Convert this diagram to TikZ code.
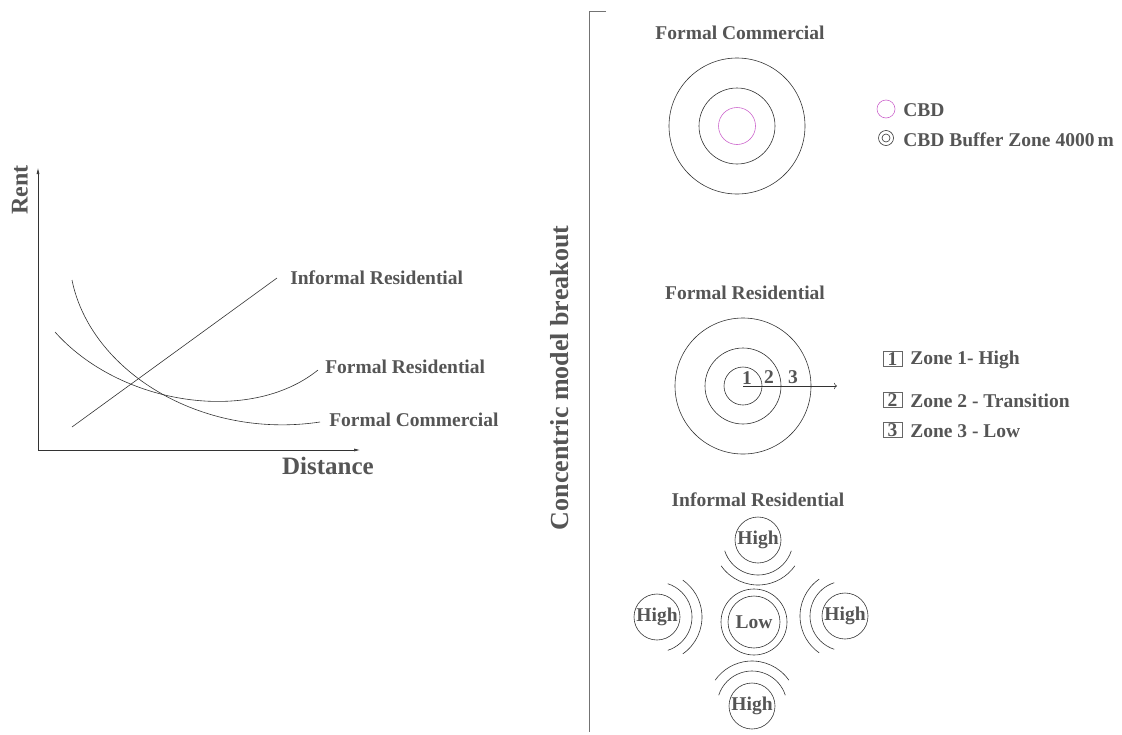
\documentclass[tikz,border=0pt]{standalone}
\usepackage{fontspec}
\setmainfont{Liberation Serif}
\usetikzlibrary{arrows.meta}
\definecolor{txtgray}{RGB}{85,85,85}
\definecolor{cbdpink}{RGB}{204,102,204}
\tikzset{
  lbl/.style={font=\bfseries\fontsize{19.5}{22}\selectfont, text=txtgray, inner sep=0pt},
  biglbl/.style={lbl, font=\bfseries\fontsize{25}{28}\selectfont},
  ring/.style={draw=black!80},
  house/.style={lbl, circle, draw=black!80, text=txtgray, minimum size=46pt},
  zonebox/.style={lbl, draw=black!60, minimum width=19pt, minimum height=15pt}
}
\begin{document}
\begin{tikzpicture}[x=1pt,y=1pt,line width=0.6pt]
\useasboundingbox (0,0) rectangle (1122,-734);
% bid rent graph
\coordinate (O) at (38,-450);
\coordinate (ytip) at (38,-168);
\coordinate (xtip) at (360,-450);
\draw[black!80,{Latex[length=6pt,width=3pt]}-{Latex[length=6pt,width=3pt]}] (ytip) -- (O) -- (xtip);
\node[biglbl, font=\bfseries\fontsize{24}{26}\selectfont, rotate=90] (rent) at (20,-190) {Rent};
\node[biglbl] (dist) at (328,-466) {Distance};
\coordinate (irA) at (72,-427);
\coordinate (irB) at (277,-278);
\draw[black!80] (irA) -- (irB);
\draw[black!80] (55,-332) .. controls (120,-405) and (250,-425) .. (318,-370);
\draw[black!80] (72,-280) .. controls (90,-370) and (200,-440) .. (320,-422);
\node[lbl, anchor=west] (irlbl) at (290,-278) {Informal Residential};
\node[lbl, anchor=west] (frlbl) at (325,-367) {Formal Residential};
\node[lbl, anchor=west] (fclbl) at (329,-420) {Formal Commercial};
% separator
\node[biglbl, font=\bfseries\fontsize{26}{30}\selectfont, rotate=90] (sep) at (560,-378) {Concentric model breakout};
\coordinate (sepT) at (606,-11);
\coordinate (sepC) at (589,-11);
\coordinate (sepB) at (589,-732);
\draw[black!55, line width=1pt] (sepT) -- (sepC) -- (sepB);
% formal commercial
\node[lbl] (fctitle) at (740,-33) {Formal Commercial};
\coordinate (fc) at (737,-126);
\draw[ring] (fc) circle (68);
\draw[ring] (fc) circle (38);
\draw[cbdpink] (fc) circle (18.5);
\draw[cbdpink] (886,-109) circle (9);
\node[lbl, anchor=west] (cbd) at (903,-110) {CBD};
\draw[ring] (886,-138) circle (7.5);
\draw[ring] (886,-138) circle (4);
\node[lbl, anchor=west] (buf) at (903,-140) {CBD Buffer Zone 4000\,m};
% formal residential
\node[lbl] (frtitle) at (745,-293) {Formal Residential};
\coordinate (fr) at (743,-386);
\coordinate (frtip) at (837,-386);
\foreach \r in {68,38,19}
  \draw[ring] (fr) circle (\r);
\draw[black!80,->] (fr) -- (frtip);
\node[lbl] (z1) at (747,-378) {1};
\node[lbl] (z2) at (769,-377) {2};
\node[lbl] (z3) at (793,-377) {3};
\foreach \n/\y/\t in {1/359/Zone 1- High, 2/400/Zone 2 - Transition, 3/430/Zone 3 - Low}{
  \node[zonebox] (box\n) at (892.5,-\y) {\n};
  \node[lbl, anchor=west] (zone\n) at (910,-\y-1) {\t};
}
% informal residential
\node[lbl] (irtitle) at (758,-500) {Informal Residential};
\node[house, minimum size=52pt] (low) at (754,-622) {Low};
\draw[ring] (low.center) circle (33);
\node[house] (hT) at (758,-540) {High};
\node[house] (hL) at (657,-617) {High};
\node[house] (hR) at (845,-616) {High};
\node[house] (hB) at (752,-706) {High};
\foreach \n/\a in {hT/270, hL/0, hR/180, hB/90}{
  \draw[ring] (\n.center) ++(\a-72:35) arc[start angle=\a-72, end angle=\a+72, radius=35];
  \draw[ring] (\n.center) ++(\a-55:45) arc[start angle=\a-55, end angle=\a+55, radius=45];
}
\end{tikzpicture}
\end{document}
